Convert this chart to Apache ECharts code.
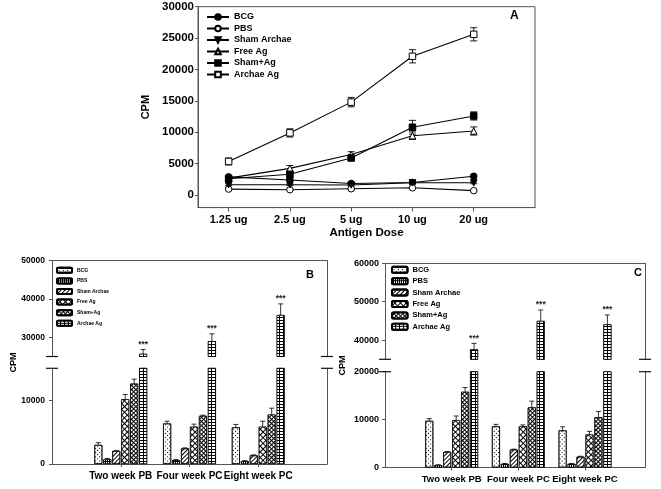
<!DOCTYPE html>
<html><head><meta charset="utf-8">
<script src="https://cdn.jsdelivr.net/npm/echarts@6.0.0/dist/echarts.min.js"></script>
<style>html,body{margin:0;padding:0;background:#fff}#c{width:661px;height:489px}</style>
</head><body><div id="c"></div>
<script>
// ---------- Panel A data ----------
const doseLabels = ['1.25 ug', '2.5 ug', '5 ug', '10 ug', '20 ug'];
const doseX = [1, 2, 3, 4, 5];
const seriesNames = ['BCG', 'PBS', 'Sham Archae', 'Free Ag', 'Sham+Ag', 'Archae Ag'];
const aBCG = [2900, 2400, 1850, 2000, 3000];
const aBCGErr = [250, 200, 150, 150, 200];
const aPBS = [950, 850, 1000, 1150, 700];
const aPBSErr = [150, 100, 100, 100, 100];
const aSham = [1650, 1650, 1600, 1950, 1950];
const aShamErr = [150, 150, 150, 150, 150];
const aFree = [2700, 4250, 6450, 9450, 10200];
const aFreeErr = [300, 450, 450, 600, 650];
const aShamAg = [2600, 3300, 5900, 10800, 12600];
const aShamAgErr = [350, 450, 400, 1100, 650];
const aArchae = [5350, 9900, 14800, 22100, 25600];
const aArchaeErr = [550, 650, 750, 1050, 1050];
const yTicksA = [0, 5000, 10000, 15000, 20000, 25000, 30000];

// ---------- Panel B / C data ----------
const groupLabels = ['Two week PB', 'Four week PC', 'Eight week PC'];
const groupX = [1, 2, 3];
const bBCG = [3000, 6350, 5750], bBCGErr = [350, 350, 450];
const bPBS = [750, 600, 450], bPBSErr = [120, 100, 80];
const bSham = [2050, 2450, 1350], bShamErr = [80, 80, 80];
const bFree = [10150, 5850, 5850], bFreeErr = [750, 400, 850];
const bShamAg = [12600, 7550, 7750], bShamAgErr = [700, 100, 1000];
const bArchae = [25700, 29000, 35800], bArchaeErr = [1100, 1900, 2900];
const bSig = ['***', '***', '***'];
const yTicksBUpper = [30000, 40000, 50000];
const yTicksBLower = [0, 10000];

const cBCG = [9750, 8600, 7750], cBCGErr = [450, 400, 750];
const cPBS = [500, 750, 750], cPBSErr = [80, 80, 80];
const cSham = [3250, 3750, 2250], cShamErr = [100, 80, 100];
const cFree = [9900, 8600, 6900], cFreeErr = [850, 300, 650];
const cShamAg = [15800, 12550, 10500], cShamAgErr = [900, 1300, 1200];
const cArchae = [37600, 45000, 44100], cArchaeErr = [1550, 2850, 2450];
const cSig = ['***', '***', '***'];
const yTicksCUpper = [40000, 50000, 60000];
const yTicksCLower = [0, 10000, 20000];

// ---------- styles ----------
const FONT = "'Liberation Sans', Arial, sans-serif";
const AX = '#555';
const BW = 8, GAPR = 0.12, STEP = BW * (1 + GAPR);

const lineStyles = [
  {symbol: 'circle', rot: 0, fill: '#000'},
  {symbol: 'circle', rot: 0, fill: '#fff'},
  {symbol: 'triangle', rot: 180, fill: '#000'},
  {symbol: 'triangle', rot: 0, fill: '#fff'},
  {symbol: 'rect', rot: 0, fill: '#000'},
  {symbol: 'rect', rot: 0, fill: '#fff'}
];
const barStyles = [
  {color: '#fff', decal: {symbol: 'rect', symbolSize: 1, dashArrayX: [1, 2], dashArrayY: [1, 2], rotation: Math.PI / 4, color: '#000'}},
  {color: '#000', decal: {symbol: 'rect', symbolSize: 1, dashArrayX: [1, 1], dashArrayY: [2, 1], color: '#fff'}},
  {color: '#fff', decal: {symbol: 'rect', symbolSize: 1, dashArrayX: [1, 0], dashArrayY: [1, 2], rotation: -Math.PI / 4, color: '#000'}},
  {color: '#000', decal: {symbol: 'rect', symbolSize: 1, dashArrayX: [3, 1], dashArrayY: [3, 1], rotation: Math.PI / 4, color: '#fff'}},
  {color: '#000', decal: {symbol: 'rect', symbolSize: 1, dashArrayX: [2, 1], dashArrayY: [2, 1], rotation: Math.PI / 4, color: '#fff'}},
  {color: '#000', decal: {symbol: 'rect', symbolSize: 1, dashArrayX: [3, 1], dashArrayY: [2, 1], color: '#fff'}}
];

const aVals = [aBCG, aPBS, aSham, aFree, aShamAg, aArchae];
const aErrs = [aBCGErr, aPBSErr, aShamErr, aFreeErr, aShamAgErr, aArchaeErr];
const bVals = [bBCG, bPBS, bSham, bFree, bShamAg, bArchae];
const bErrs = [bBCGErr, bPBSErr, bShamErr, bFreeErr, bShamAgErr, bArchaeErr];
const cVals = [cBCG, cPBS, cSham, cFree, cShamAg, cArchae];
const cErrs = [cBCGErr, cPBSErr, cShamErr, cFreeErr, cShamAgErr, cArchaeErr];

const lbl = (size) => ({fontFamily: FONT, fontWeight: 'bold', fontSize: size, color: '#000'});
const plain = v => String(Math.round(v));

// ---------- axes ----------
function decoX(gi, max, pos) {
  return {gridIndex: gi, type: 'value', min: 0, max: max, position: pos,
    axisLine: {show: true, onZero: false, lineStyle: {color: AX}},
    axisTick: {show: false}, axisLabel: {show: false}, splitLine: {show: false}};
}
function catX(gi, max, fs) {
  return {gridIndex: gi, type: 'value', min: 0, max: max, position: 'bottom',
    axisLine: {show: true, onZero: false, lineStyle: {color: AX}},
    axisTick: {show: true, customValues: groupX, length: 3, lineStyle: {color: AX}},
    axisLabel: Object.assign({customValues: groupX, margin: 7, interval: 0, hideOverlap: false,
      formatter: v => groupLabels[groupX.indexOf(v)]}, lbl(fs)),
    splitLine: {show: false}};
}
function leftY(gi, min, max, ticks, fs, margin) {
  return {gridIndex: gi, type: 'value', min: min, max: max, position: 'left',
    axisLine: {show: true, onZero: false, lineStyle: {color: AX}},
    axisTick: {show: true, customValues: ticks, length: 3, lineStyle: {color: AX}},
    axisLabel: Object.assign({customValues: ticks, margin: margin, formatter: plain}, lbl(fs)),
    splitLine: {show: false}};
}
function rightY(gi, min, max) {
  return {gridIndex: gi, type: 'value', min: min, max: max, position: 'right',
    axisLine: {show: true, onZero: false, lineStyle: {color: AX}},
    axisTick: {show: false}, axisLabel: {show: false}, splitLine: {show: false}};
}

const xAxis = [
  {gridIndex: 0, type: 'value', min: 0.5, max: 6,
    axisLine: {show: true, onZero: false, lineStyle: {color: AX}},
    axisTick: {show: true, customValues: doseX, length: 4, lineStyle: {color: AX}},
    axisLabel: Object.assign({customValues: doseX, margin: 7, interval: 0,
      formatter: v => doseLabels[doseX.indexOf(v)]}, lbl(11)),
    splitLine: {show: false},
    name: 'Antigen Dose', nameLocation: 'middle', nameGap: 18,
    nameTextStyle: lbl(11.5)},
  decoX(1, 4, 'top'),
  catX(2, 4, 10),
  decoX(3, 3.9, 'top'),
  catX(4, 3.9, 9.5)
];
const yAxis = [
  Object.assign(leftY(0, -2000, 30000, yTicksA, 11.5, 4),
    {name: 'CPM', nameLocation: 'middle', nameGap: 46, nameRotate: 90, nameTextStyle: lbl(11)}),
  leftY(1, 25000, 50000, yTicksBUpper, 8.5, 7),
  rightY(1, 25000, 50000),
  leftY(2, 0, 15000, yTicksBLower, 8.5, 7),
  rightY(2, 0, 15000),
  leftY(3, 35000, 60000, yTicksCUpper, 9, 6),
  rightY(3, 35000, 60000),
  leftY(4, 0, 20000, yTicksCLower, 9, 6),
  rightY(4, 0, 20000)
];

// ---------- series ----------
const series = [];

// Panel A error bars
const aErrData = [];
aVals.forEach((vals, s) => vals.forEach((v, i) => aErrData.push([doseX[i], v, aErrs[s][i]])));
series.push({
  type: 'custom', xAxisIndex: 0, yAxisIndex: 0, z: 1, silent: true,
  data: aErrData,
  renderItem: function (params, api) {
    const x = api.value(0), v = api.value(1), e = api.value(2);
    const lo = api.coord([x, v - e]), hi = api.coord([x, v + e]);
    const st = {stroke: '#000', lineWidth: 0.9};
    return {type: 'group', children: [
      {type: 'line', shape: {x1: lo[0], y1: lo[1], x2: hi[0], y2: hi[1]}, style: st},
      {type: 'line', shape: {x1: hi[0] - 3.5, y1: hi[1], x2: hi[0] + 3.5, y2: hi[1]}, style: st},
      {type: 'line', shape: {x1: lo[0] - 3.5, y1: lo[1], x2: lo[0] + 3.5, y2: lo[1]}, style: st}
    ]};
  }
});
// Panel A lines
aVals.forEach((vals, s) => {
  const ls = lineStyles[s];
  series.push({
    type: 'line', name: seriesNames[s] + '#A', xAxisIndex: 0, yAxisIndex: 0, z: 3,
    data: vals.map((v, i) => [doseX[i], v]),
    symbol: ls.symbol, symbolRotate: ls.rot, symbolSize: 6.5, showSymbol: true,
    lineStyle: {color: '#000', width: 1.1},
    itemStyle: {color: ls.fill, borderColor: '#000', borderWidth: 1}
  });
});

function errRender(withSig) {
  return function (params, api) {
    const x = api.value(0), v = api.value(1), e = api.value(2), k = api.value(3);
    const off = (k - 2.5) * STEP;
    const p0 = api.coord([x, v]), p1 = api.coord([x, v + e]);
    const cx = p0[0] + off;
    const st = {stroke: '#000', lineWidth: 0.8};
    const ch = [
      {type: 'line', shape: {x1: cx, y1: p0[1], x2: cx, y2: p1[1]}, style: st},
      {type: 'line', shape: {x1: cx - 2.5, y1: p1[1], x2: cx + 2.5, y2: p1[1]}, style: st}
    ];
    const sig = withSig ? withSig[api.value(4)] : null;
    if (sig && k === 5) {
      ch.push({type: 'text', x: cx, y: p1[1] - 5,
        style: {text: sig, align: 'center', verticalAlign: 'middle', fill: '#222',
          font: 'bold 8.5px ' + FONT}});
    }
    return {type: 'group', children: ch};
  };
}

function addBarPanel(key, vals, errs, sig, xu, yu, xl, yl, upperMin, lowerMax) {
  vals.forEach((v, s) => {
    const bs = barStyles[s];
    const common = {type: 'bar', name: seriesNames[s] + '#' + key, barWidth: BW,
      barGap: (GAPR * 100) + '%', clip: true, z: 2,
      itemStyle: {color: bs.color, decal: bs.decal, borderColor: '#000', borderWidth: 0.7}};
    series.push(Object.assign({}, common, {xAxisIndex: xl, yAxisIndex: yl,
      data: v.map((d, i) => [groupX[i], d])}));
    series.push(Object.assign({}, common, {xAxisIndex: xu, yAxisIndex: yu,
      data: v.map((d, i) => [groupX[i], d > upperMin ? d : '-'])}));
  });
  const lowData = [], upData = [];
  vals.forEach((v, s) => v.forEach((d, i) => {
    const item = [groupX[i], d, errs[s][i], s, i];
    if (d + errs[s][i] <= lowerMax) lowData.push(item);
    if (d > upperMin) upData.push(item);
  }));
  series.push({type: 'custom', xAxisIndex: xl, yAxisIndex: yl, z: 3, silent: true,
    data: lowData, renderItem: errRender(null)});
  series.push({type: 'custom', xAxisIndex: xu, yAxisIndex: yu, z: 3, silent: true,
    data: upData, renderItem: errRender(sig)});
}
addBarPanel('B', bVals, bErrs, bSig, 1, 1, 2, 3, 25000, 15000);
addBarPanel('C', cVals, cErrs, cSig, 3, 5, 4, 7, 35000, 20000);

const legendBase = {orient: 'vertical', padding: 0, selectedMode: false,
  formatter: n => n.split('#')[0]};

const option = {
  animation: false,
  backgroundColor: '#fff',
  title: [
    {text: 'A', left: 510, top: 10, padding: 0, textStyle: lbl(12)},
    {text: 'B', left: 306, top: 269, padding: 0, textStyle: lbl(11)},
    {text: 'C', left: 634, top: 267, padding: 0, textStyle: lbl(11)}
  ],
  grid: [
    {left: 198, top: 6.7, width: 337, height: 200.9, show: true, borderColor: AX, borderWidth: 1, containLabel: false},
    {left: 52, top: 260.5, width: 275, height: 96},
    {left: 52, top: 368.3, width: 275, height: 95.7},
    {left: 385, top: 263.3, width: 260, height: 96},
    {left: 385, top: 371.7, width: 260, height: 95.8}
  ],
  legend: [
    Object.assign({}, legendBase, {data: seriesNames.map(n => n + '#A'), left: 206, top: 12.5,
      itemWidth: 22, itemHeight: 7, itemGap: 2.5,
      textStyle: Object.assign({lineHeight: 8}, lbl(9))}),
    Object.assign({}, legendBase, {data: seriesNames.map(n => n + '#B'), left: 56, top: 266.8,
      itemWidth: 15, itemHeight: 5, itemGap: 3.6,
      textStyle: Object.assign({lineHeight: 5}, lbl(5))}),
    Object.assign({}, legendBase, {data: seriesNames.map(n => n + '#C'), left: 391, top: 265.8,
      itemWidth: 15.5, itemHeight: 6, itemGap: 3.4,
      textStyle: Object.assign({lineHeight: 7}, lbl(7.5))})
  ],
  xAxis: xAxis,
  yAxis: yAxis,
  series: series
};

const chart = echarts.init(document.getElementById('c'), null, {renderer: 'canvas'});
chart.setOption(option);

// axis-break marks and broken-axis titles, positioned through the axes' own scales
const gfx = [];
function brk(xi, yi, xv, yv) {
  const p = chart.convertToPixel({xAxisIndex: xi, yAxisIndex: yi}, [xv, yv]);
  gfx.push({type: 'line', shape: {x1: p[0] - 6, y1: p[1], x2: p[0] + 6, y2: p[1]},
    style: {stroke: '#111', lineWidth: 1.2}, z: 10});
  return p;
}
const b1 = brk(1, 1, 0, 25000); brk(1, 1, 4, 25000);
const b2 = brk(2, 3, 0, 15000); brk(2, 3, 4, 15000);
const c1 = brk(3, 5, 0, 35000); brk(3, 5, 3.9, 35000);
const c2 = brk(4, 7, 0, 20000); brk(4, 7, 3.9, 20000);
function cpm(x, y) {
  gfx.push({type: 'text', x: x, y: y, rotation: Math.PI / 2,
    style: {text: 'CPM', align: 'center', verticalAlign: 'middle', fill: '#000', font: 'bold 9px ' + FONT}});
}
cpm(b1[0] - 38, (b1[1] + b2[1]) / 2);
cpm(c1[0] - 42, (c1[1] + c2[1]) / 2);
chart.setOption({graphic: gfx});
</script></body></html>
